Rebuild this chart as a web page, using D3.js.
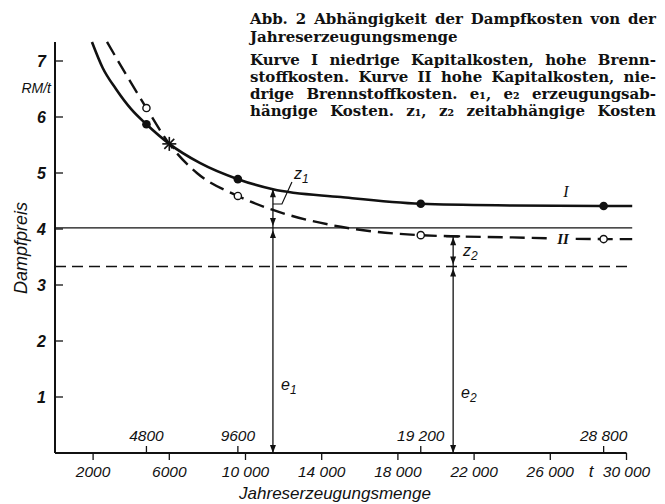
<!DOCTYPE html>
<html>
<head>
<meta charset="utf-8">
<script src="https://cdn.jsdelivr.net/npm/d3@7"></script>
<style>
  html, body { margin: 0; padding: 0; background: #fff; }
  svg { display: block; }
  .tick-label { font-family: "Liberation Sans", Arial, sans-serif; font-style: italic; font-size: 15.5px; fill: #111; }
  .axis-title { font-family: "Liberation Sans", Arial, sans-serif; font-style: italic; font-size: 17px; fill: #111; }
  .caption { font-family: "DejaVu Serif", "Liberation Serif", serif; font-weight: bold; font-size: 15px; fill: #111; }
</style>
</head>
<body>
<svg id="chart" width="665" height="504"></svg>
<script>
// Annual production (t) and steam price (RM/t)
const xTicks = [2000, 6000, 10000, 14000, 18000, 22000, 26000, 30000];
const xTickLabels = ["2000", "6000", "10 000", "14 000", "18 000", "22 000", "26 000", "30 000"];
const xUpperTicks = [4800, 9600, 19200, 28800];
const xUpperLabels = ["4800", "9600", "19 200", "28 800"];
const yTicks = [1, 2, 3, 4, 5, 6, 7];

// Curve I: low capital cost, high fuel cost
const curveIX = [1940, 2500, 3200, 4000, 4800, 6000, 7600, 9600, 11440, 15000, 19200, 24000, 28800, 30300];
const curveIY = [7.34, 6.88, 6.50, 6.14, 5.87, 5.52, 5.18, 4.89, 4.71, 4.57, 4.45, 4.42, 4.41, 4.41];
// Curve II: high capital cost, low fuel cost
const curveIIX = [2730, 3780, 4800, 6000, 7450, 9600, 11440, 15000, 19200, 24000, 28800, 30300];
const curveIIY = [7.34, 6.73, 6.16, 5.52, 5.00, 4.59, 4.34, 4.04, 3.89, 3.85, 3.82, 3.82];

// Computed points on both curves
const pointX = [4800, 9600, 19200, 28800];
const pointIY = [5.87, 4.89, 4.45, 4.41];
const pointIIY = [6.16, 4.59, 3.89, 3.82];
const crossX = 6000, crossY = 5.52;

// Production-dependent cost levels e1, e2 and their reference positions
const levelE1 = 4.02, levelE2 = 3.33;
const e1X = 11440, e1Top = 4.71;
const e2X = 20900, e2Top = 3.87;
const lineEndX = 30300;

const svg = d3.select("#chart");
const x = d3.scaleLinear().domain([0, 30000]).range([55, 626.5]);
const y = d3.scaleLinear().domain([0, 7]).range([453, 61]);

// Axes
svg.append("line").attr("x1", x(0)).attr("x2", x(30000)).attr("y1", y(0)).attr("y2", y(0))
  .attr("stroke", "#111").attr("stroke-width", 2);
svg.append("line").attr("x1", x(0)).attr("x2", x(0)).attr("y1", y(0)).attr("y2", 42)
  .attr("stroke", "#111").attr("stroke-width", 2);

// Lower x ticks
xTicks.forEach((v, i) => {
  svg.append("line").attr("x1", x(v)).attr("x2", x(v)).attr("y1", y(0)).attr("y2", y(0) + 7)
    .attr("stroke", "#111").attr("stroke-width", 1.3);
  svg.append("text").attr("class", "tick-label").attr("x", x(v)).attr("y", 477)
    .attr("text-anchor", "middle").text(xTickLabels[i]);
});
// Unit label next to last tick
svg.append("text").attr("class", "tick-label").attr("x", 591).attr("y", 477)
  .attr("text-anchor", "middle").style("font-size", "17px").text("t");

// Upper x ticks
xUpperTicks.forEach((v, i) => {
  svg.append("line").attr("x1", x(v)).attr("x2", x(v)).attr("y1", y(0)).attr("y2", y(0) - 7)
    .attr("stroke", "#111").attr("stroke-width", 1.3);
  svg.append("text").attr("class", "tick-label").attr("x", x(v)).attr("y", 441)
    .attr("text-anchor", "middle").text(xUpperLabels[i]);
});

// y ticks
yTicks.forEach(v => {
  svg.append("line").attr("x1", x(0)).attr("x2", x(0) + 8).attr("y1", y(v)).attr("y2", y(v))
    .attr("stroke", "#111").attr("stroke-width", 1.3);
  svg.append("text").attr("class", "tick-label").attr("x", 46).attr("y", y(v) + 6)
    .attr("text-anchor", "end").style("font-size", "16px").style("font-weight", "bold").text(v);
});
svg.append("text").attr("class", "tick-label").attr("x", 51).attr("y", 93)
  .attr("text-anchor", "end").style("font-size", "14px").text("RM/t");

// Axis titles
svg.append("text").attr("class", "axis-title")
  .attr("transform", "translate(27,248) rotate(-90)").attr("text-anchor", "middle")
  .style("font-size", "18px").text("Dampfpreis");
svg.append("text").attr("class", "axis-title").attr("x", 335).attr("y", 499)
  .attr("text-anchor", "middle").text("Jahreserzeugungsmenge");

// Horizontal level lines
svg.append("line").attr("x1", x(0)).attr("x2", x(lineEndX)).attr("y1", y(levelE1)).attr("y2", y(levelE1))
  .attr("stroke", "#111").attr("stroke-width", 1.2);
svg.append("line").attr("x1", x(0)).attr("x2", x(lineEndX)).attr("y1", y(levelE2)).attr("y2", y(levelE2))
  .attr("stroke", "#111").attr("stroke-width", 1.3).attr("stroke-dasharray", "11,6");

// Curves
const line = d3.line().x(d => x(d[0])).y(d => y(d[1])).curve(d3.curveMonotoneX);
svg.append("path").datum(d3.zip(curveIX, curveIY)).attr("d", line)
  .attr("fill", "none").attr("stroke", "#111").attr("stroke-width", 2.6);
svg.append("path").datum(d3.zip(curveIIX, curveIIY)).attr("d", line)
  .attr("fill", "none").attr("stroke", "#111").attr("stroke-width", 2.4).attr("stroke-dasharray", "15,7");

// Arrowheads
function arrow(px, tipY, dir) {
  // dir = -1 points up, +1 points down
  const len = 8, half = 3;
  svg.append("path")
    .attr("d", `M${px},${tipY} L${px - half},${tipY - dir * len} L${px + half},${tipY - dir * len} Z`)
    .attr("fill", "#111");
}

// e1 / z1
svg.append("line").attr("x1", x(e1X)).attr("x2", x(e1X)).attr("y1", y(0)).attr("y2", y(e1Top))
  .attr("stroke", "#111").attr("stroke-width", 1.3);
arrow(x(e1X), y(0), 1);
arrow(x(e1X), y(levelE1) + 2, -1);
arrow(x(e1X), y(levelE1) - 2, 1);
arrow(x(e1X), y(e1Top), -1);

// e2 / z2
svg.append("line").attr("x1", x(e2X)).attr("x2", x(e2X)).attr("y1", y(0)).attr("y2", y(e2Top))
  .attr("stroke", "#111").attr("stroke-width", 1.3);
svg.append("line").attr("x1", x(e2X) - 7).attr("x2", x(e2X) + 7).attr("y1", y(e2Top)).attr("y2", y(e2Top))
  .attr("stroke", "#111").attr("stroke-width", 2);
arrow(x(e2X), y(0), 1);
arrow(x(e2X), y(levelE2) + 2, -1);
arrow(x(e2X), y(levelE2) - 2, 1);
arrow(x(e2X), y(e2Top) + 1, -1);

// Leader for z1
svg.append("path")
  .attr("d", `M${x(e1X)},204 L${x(e1X) + 9},204 L${x(e1X) + 19},182`)
  .attr("fill", "none").attr("stroke", "#111").attr("stroke-width", 1.2);

// Annotation labels with subscripts
function subLabel(px, py, base, sub, size) {
  const t = svg.append("text").attr("class", "axis-title").attr("x", px).attr("y", py)
    .style("font-size", size + "px");
  t.append("tspan").text(base);
  t.append("tspan").attr("dy", 4).style("font-size", (size * 0.75) + "px").text(sub);
}
subLabel(294, 179, "z", "1", 16);
subLabel(463, 256, "z", "2", 16);
subLabel(281, 390, "e", "1", 16);
subLabel(461, 398, "e", "2", 16);

// Curve names
svg.append("text").attr("class", "axis-title").attr("x", 566).attr("y", 197)
  .attr("text-anchor", "middle").style("font-family", "Liberation Serif, serif")
  .style("font-size", "16px").text("I");
svg.append("rect").attr("x", 553).attr("y", 232).attr("width", 20).attr("height", 12).attr("fill", "#fff");
svg.append("text").attr("class", "axis-title").attr("x", 563).attr("y", 244)
  .attr("text-anchor", "middle").style("font-family", "Liberation Serif, serif")
  .style("font-weight", "bold").style("font-size", "15px").text("II");

// Markers
pointX.forEach((v, i) => {
  svg.append("circle").attr("cx", x(v)).attr("cy", y(pointIY[i])).attr("r", 4.3).attr("fill", "#111");
  svg.append("circle").attr("cx", x(v)).attr("cy", y(pointIIY[i])).attr("r", 3.6)
    .attr("fill", "#fff").attr("stroke", "#111").attr("stroke-width", 1.4);
});
// Intersection star
const cx = x(crossX), cy = y(crossY), s = 7;
for (let k = 0; k < 4; k++) {
  const a = k * Math.PI / 4;
  svg.append("line")
    .attr("x1", cx - s * Math.cos(a)).attr("y1", cy - s * Math.sin(a))
    .attr("x2", cx + s * Math.cos(a)).attr("y2", cy + s * Math.sin(a))
    .attr("stroke", "#111").attr("stroke-width", 1.6);
}

// Caption block, justified by widening the word gaps
const capLeft = 250, capWidth = 406;
const captionLines = [
  { y: 24, text: "Abb. 2 Abhängigkeit der Dampfkosten von der", justify: true },
  { y: 42, text: "Jahreserzeugungsmenge", justify: false },
  { y: 65, text: "Kurve I niedrige Kapitalkosten, hohe Brenn-", justify: true },
  { y: 82, text: "stoffkosten. Kurve II hohe Kapitalkosten, nie-", justify: true },
  { y: 99, text: "drige Brennstoffkosten. e\u2081, e\u2082 erzeugungsab-", justify: true },
  { y: 116, text: "hängige Kosten. z\u2081, z\u2082 zeitabhängige Kosten", justify: true }
];
captionLines.forEach(l => {
  const t = svg.append("text").attr("class", "caption").attr("x", capLeft).attr("y", l.y).text(l.text);
  if (l.justify) {
    const natural = t.node().getComputedTextLength();
    const gaps = l.text.split(" ").length - 1;
    if (gaps > 0 && natural < capWidth) {
      t.style("word-spacing", ((capWidth - natural) / gaps) + "px");
    }
    const after = t.node().getComputedTextLength();
    if (after > capWidth + 1) t.attr("textLength", capWidth).attr("lengthAdjust", "spacingAndGlyphs");
  }
});
</script>
</body>
</html>
